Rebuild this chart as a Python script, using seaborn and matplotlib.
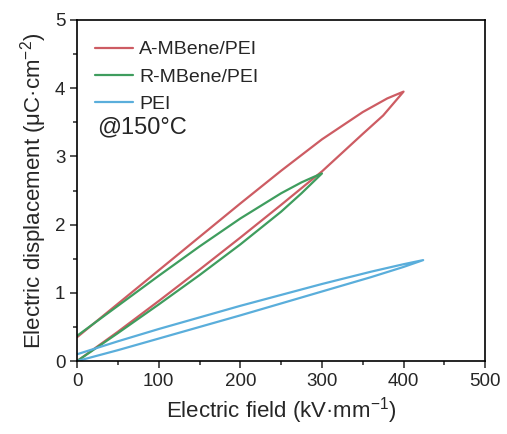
import pandas as pd
import numpy as np
import matplotlib
matplotlib.use("Agg")
import matplotlib.pyplot as plt
import seaborn as sns

# D-E loops (E in kV/mm, D in uC/cm^2)
samples = ["A-MBene/PEI", "R-MBene/PEI", "PEI"]
colors = ["#CD5C63", "#3F9D5E", "#5AAEDB"]

# A-MBene/PEI: charge branch then discharge branch
a_charge_E = [0, 50, 100, 150, 200, 250, 300, 350, 375, 400]
a_charge_D = [0, 0.43, 0.88, 1.34, 1.81, 2.29, 2.78, 3.33, 3.60, 3.95]
a_discharge_E = [400, 380, 350, 300, 250, 200, 150, 100, 50, 0]
a_discharge_D = [3.95, 3.85, 3.65, 3.25, 2.79, 2.31, 1.82, 1.33, 0.84, 0.35]

# R-MBene/PEI
r_charge_E = [0, 50, 100, 150, 200, 250, 275, 300]
r_charge_D = [0, 0.41, 0.83, 1.26, 1.71, 2.19, 2.46, 2.75]
r_discharge_E = [300, 290, 275, 250, 200, 150, 100, 50, 0]
r_discharge_D = [2.75, 2.70, 2.62, 2.46, 2.09, 1.68, 1.25, 0.81, 0.37]

# PEI
p_charge_E = [0, 50, 100, 200, 300, 360, 400, 424]
p_charge_D = [0, 0.16, 0.33, 0.67, 1.02, 1.23, 1.38, 1.48]
p_discharge_E = [424, 400, 360, 300, 200, 100, 50, 0]
p_discharge_D = [1.48, 1.42, 1.31, 1.13, 0.81, 0.47, 0.29, 0.10]

loops = {
    "A-MBene/PEI": (a_charge_E + a_discharge_E, a_charge_D + a_discharge_D),
    "R-MBene/PEI": (r_charge_E + r_discharge_E, r_charge_D + r_discharge_D),
    "PEI": (p_charge_E + p_discharge_E, p_charge_D + p_discharge_D),
}

sns.set_style("ticks")
plt.rcParams["font.family"] = ["Liberation Sans", "DejaVu Sans"]
plt.rcParams["mathtext.fontset"] = "custom"
plt.rcParams["mathtext.rm"] = "Liberation Sans"
plt.rcParams["mathtext.it"] = "Liberation Sans:italic"
plt.rcParams["mathtext.default"] = "regular"

fig, ax = plt.subplots(figsize=(5.07, 4.34), dpi=100)
fig.subplots_adjust(left=0.152, right=0.957, top=0.954, bottom=0.168)

for name, color in zip(samples, colors):
    E, D = loops[name]
    df = pd.DataFrame({"E": E, "D": D})
    sns.lineplot(data=df, x="E", y="D", sort=False, estimator=None,
                 color=color, linewidth=1.6, label=name, ax=ax)

ax.set_xlim(0, 500)
ax.set_ylim(0, 5)
ax.set_xticks(np.arange(0, 501, 100))
ax.set_yticks(np.arange(0, 6, 1))
ax.set_xticks(np.arange(50, 500, 100), minor=True)
ax.set_yticks(np.arange(0.5, 5, 1), minor=True)
ax.tick_params(which="major", direction="out", length=5, width=1.1, labelsize=13.5)
ax.tick_params(which="minor", direction="out", length=3, width=1.1)
for s in ax.spines.values():
    s.set_linewidth(1.2)
    s.set_color("black")

ax.set_xlabel("Electric field (kV·mm$^{-1}$)", fontsize=16)
ax.set_ylabel("Electric displacement (μC·cm$^{-2}$)", fontsize=16)

leg = ax.legend(loc="upper left", frameon=False, fontsize=14,
                handlelength=2.0, handletextpad=0.3, labelspacing=0.5,
                bbox_to_anchor=(0.0, 0.99), borderaxespad=0.5)
ax.text(0.05, 3.43, "@150°C", fontsize=17, va="center", ha="left",
        transform=ax.get_yaxis_transform())

fig.savefig("out.png", dpi=100)
